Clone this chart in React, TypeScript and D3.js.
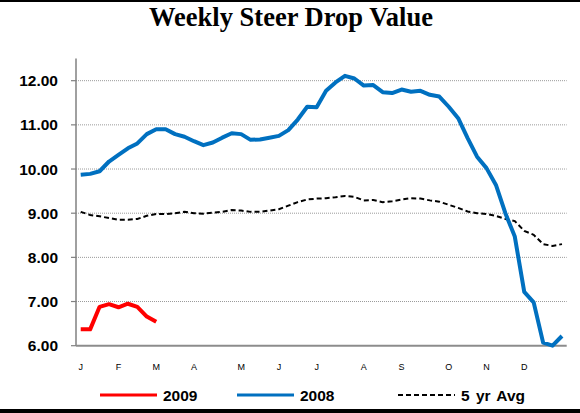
import { useEffect, useRef } from 'react';
import * as d3 from 'd3';

// weekly values, $/cwt
const values2009 = [6.37, 6.37, 6.88, 6.94, 6.87, 6.95, 6.88, 6.66, 6.54];

const values2008 = [
  9.87, 9.89, 9.95, 10.17, 10.32, 10.47, 10.58, 10.79, 10.9, 10.9,
  10.79, 10.73, 10.63, 10.54, 10.6, 10.71, 10.81, 10.79, 10.66, 10.67,
  10.71, 10.75, 10.88, 11.12, 11.41, 11.4, 11.77, 11.96, 12.11, 12.05,
  11.89, 11.9, 11.74, 11.72, 11.8, 11.75, 11.77, 11.68, 11.64, 11.41,
  11.15, 10.7, 10.28, 10.02, 9.64, 9.0, 8.47, 7.22, 6.98, 6.07,
  6.0, 6.22,
];

const values5yr = [
  9.03, 8.96, 8.93, 8.89, 8.85, 8.85, 8.87, 8.94, 8.98, 8.98,
  9.0, 9.03, 9.0, 8.99, 9.01, 9.03, 9.07, 9.06, 9.03, 9.03,
  9.06, 9.09, 9.17, 9.25, 9.31, 9.33, 9.34, 9.36, 9.39, 9.37,
  9.29, 9.3, 9.25, 9.27, 9.31, 9.34, 9.33, 9.29, 9.26, 9.19,
  9.12, 9.04, 9.0, 8.98, 8.94, 8.87, 8.82, 8.6, 8.51, 8.3,
  8.26, 8.3,
];

const monthLabels = ['J', 'F', 'M', 'A', 'M', 'J', 'J', 'A', 'S', 'O', 'N', 'D'];
const monthWeeks = [0, 4, 8, 12, 17, 21, 25, 30, 34, 39, 43, 47];
const yTicks = [6, 7, 8, 9, 10, 11, 12];

const legendItems = [
  { name: '2009', color: '#FF0000', dash: null as string | null },
  { name: '2008', color: '#0070C0', dash: null as string | null },
  { name: '5 yr Avg', color: '#000000', dash: '5,3' },
];

const W = 580;
const H = 413;

export default function App() {
  const svgRef = useRef<SVGSVGElement>(null);

  useEffect(() => {
    document.body.style.margin = '0';
    if (!svgRef.current) return;
    const svg = d3.select(svgRef.current);
    svg.selectAll('*').remove();

    const left = 76;
    const right = 566.7;
    const bottom = 345.7;
    const top = 58.6;

    const weeks = d3.range(52);
    const x = d3.scalePoint<number>().domain(weeks).range([left, right]).padding(0.5);
    const y = d3.scaleLinear().domain([6, 12.5]).range([bottom, top]);

    // frame bands
    svg.append('rect').attr('x', 0).attr('y', 0).attr('width', W).attr('height', 2).attr('fill', '#000');
    svg.append('rect').attr('x', 0).attr('y', 409).attr('width', W).attr('height', 4).attr('fill', '#000');

    svg.append('text')
      .attr('x', 291)
      .attr('y', 26)
      .attr('text-anchor', 'middle')
      .attr('font-family', '"Liberation Serif", "Times New Roman", serif')
      .attr('font-weight', 'bold')
      .attr('font-size', 26.5)
      .text('Weekly Steer Drop Value');

    // gridlines
    svg.selectAll('.grid')
      .data(yTicks.filter((d) => d > 6))
      .enter()
      .append('line')
      .attr('x1', left)
      .attr('x2', right)
      .attr('y1', (d) => y(d))
      .attr('y2', (d) => y(d))
      .attr('stroke', '#9a9a9a')
      .attr('stroke-width', 1)
      .attr('stroke-dasharray', '1,1');

    // y axis
    svg.append('line')
      .attr('x1', left).attr('x2', left)
      .attr('y1', top).attr('y2', bottom)
      .attr('stroke', '#808080').attr('stroke-width', 1.5);
    svg.selectAll('.ytick')
      .data(yTicks)
      .enter()
      .append('line')
      .attr('x1', left - 5).attr('x2', left)
      .attr('y1', (d) => y(d)).attr('y2', (d) => y(d))
      .attr('stroke', '#808080').attr('stroke-width', 1.2);
    svg.selectAll('.ylab')
      .data(yTicks)
      .enter()
      .append('text')
      .attr('x', 58)
      .attr('y', (d) => y(d) + 5.5)
      .attr('text-anchor', 'end')
      .attr('font-family', 'Arial, "Liberation Sans", sans-serif')
      .attr('font-weight', 'bold')
      .attr('font-size', 15.5)
      .text((d) => d.toFixed(2));

    // x axis
    svg.append('line')
      .attr('x1', left).attr('x2', right)
      .attr('y1', bottom).attr('y2', bottom)
      .attr('stroke', '#8c8c8c').attr('stroke-width', 2);
    svg.selectAll('.xlab')
      .data(monthWeeks)
      .enter()
      .append('text')
      .attr('x', (d) => x(d)!)
      .attr('y', 370)
      .attr('text-anchor', 'middle')
      .attr('font-family', 'Arial, "Liberation Sans", sans-serif')
      .attr('font-size', 9)
      .text((d, i) => monthLabels[i]);

    const line = d3.line<number>()
      .x((d, i) => x(i)!)
      .y((d) => y(d));

    svg.append('path')
      .datum(values5yr)
      .attr('fill', 'none')
      .attr('stroke', '#000')
      .attr('stroke-width', 2)
      .attr('stroke-dasharray', '5,3')
      .attr('d', line);

    svg.append('path')
      .datum(values2008)
      .attr('fill', 'none')
      .attr('stroke', '#0070C0')
      .attr('stroke-width', 4)
      .attr('stroke-linejoin', 'round')
      .attr('d', line);

    svg.append('path')
      .datum(values2009)
      .attr('fill', 'none')
      .attr('stroke', '#FF0000')
      .attr('stroke-width', 4)
      .attr('stroke-linejoin', 'round')
      .attr('d', line);

    // legend
    const legendX = [100, 237, 398];
    const lg = svg.selectAll('.legend')
      .data(legendItems)
      .enter()
      .append('g')
      .attr('transform', (d, i) => `translate(${legendX[i]},395)`);
    lg.append('line')
      .attr('x1', 0).attr('x2', 57)
      .attr('y1', 0).attr('y2', 0)
      .attr('stroke', (d) => d.color)
      .attr('stroke-width', (d) => (d.dash ? 2 : 3))
      .attr('stroke-dasharray', (d) => d.dash ?? null);
    lg.append('text')
      .attr('x', 63)
      .attr('y', 5.5)
      .attr('font-family', 'Arial, "Liberation Sans", sans-serif')
      .attr('font-weight', 'bold')
      .attr('font-size', 15.5)
      .attr('word-spacing', 2)
      .text((d) => d.name);
  }, []);

  return <svg ref={svgRef} width={W} height={H} style={{ display: 'block', background: '#fff' }} />;
}
